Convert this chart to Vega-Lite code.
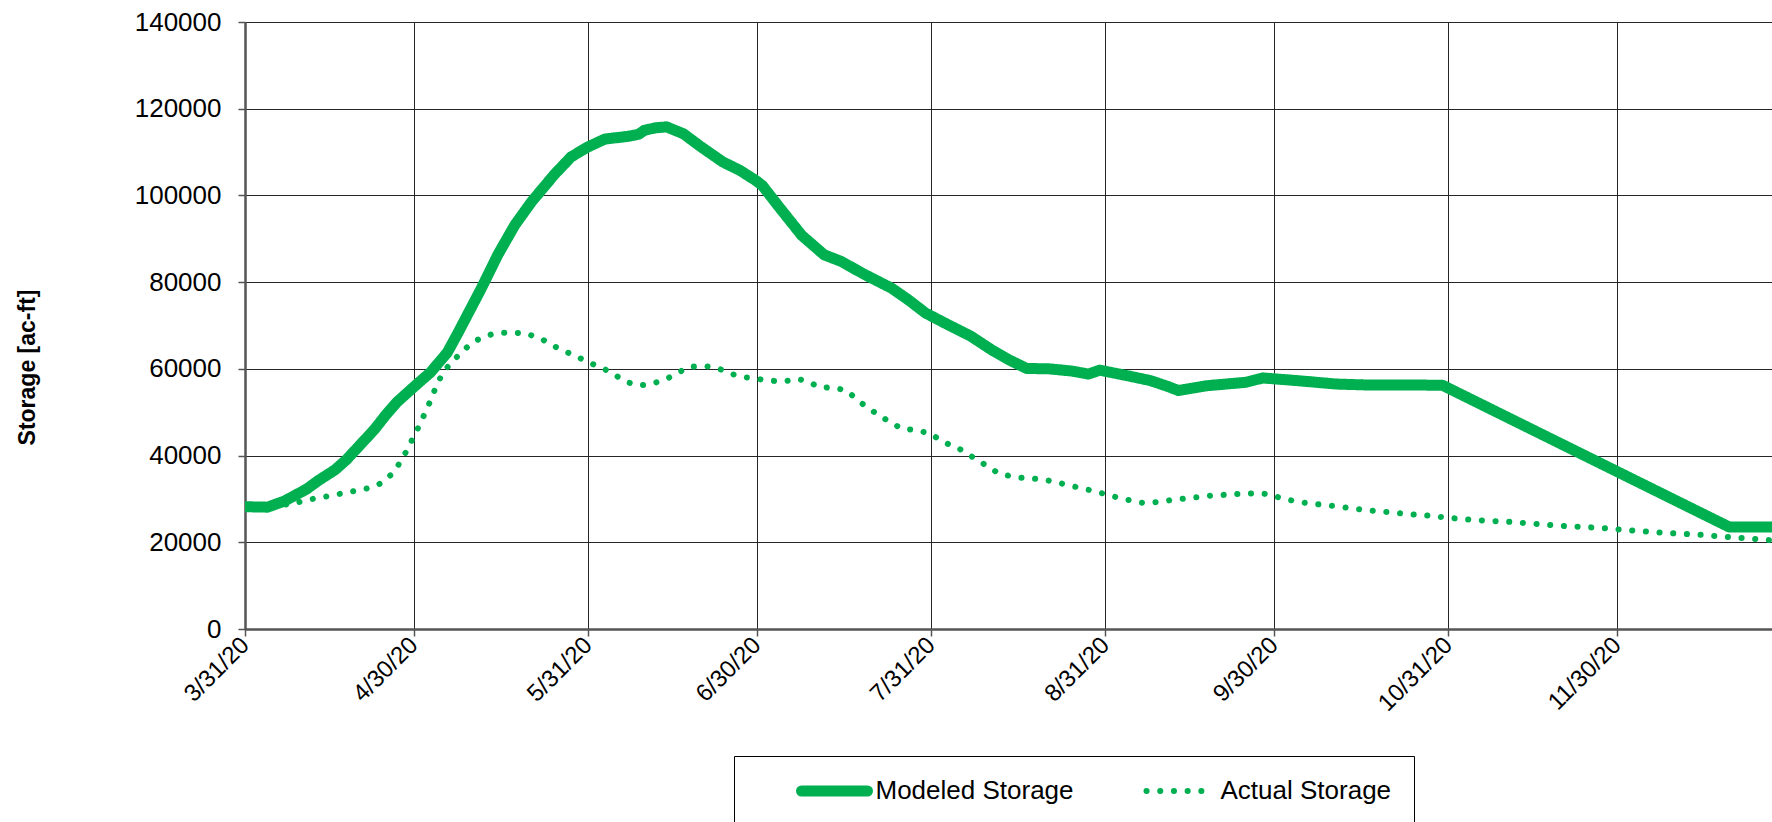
{
  "$schema": "https://vega.github.io/schema/vega-lite/v6.json",
  "width": 1527,
  "height": 607,
  "autosize": {"type": "none"},
  "padding": {"left": 245, "top": 22, "right": 0, "bottom": 193},
  "background": "white",
  "config": {
    "font": "Liberation Sans",
    "view": {"stroke": null},
    "axis": {"labelColor": "black", "titleColor": "black", "labelFont": "Liberation Sans", "titleFont": "Liberation Sans"}
  },
  "data": {
    "values": [
      {"date": "2020-03-31", "series": "Actual Storage", "value": 28300},
      {"date": "2020-04-04", "series": "Actual Storage", "value": 28200},
      {"date": "2020-04-08", "series": "Actual Storage", "value": 28800},
      {"date": "2020-04-10", "series": "Actual Storage", "value": 29400},
      {"date": "2020-04-12", "series": "Actual Storage", "value": 30000},
      {"date": "2020-04-15", "series": "Actual Storage", "value": 30700},
      {"date": "2020-04-17", "series": "Actual Storage", "value": 31200},
      {"date": "2020-04-19", "series": "Actual Storage", "value": 31700},
      {"date": "2020-04-22", "series": "Actual Storage", "value": 32500},
      {"date": "2020-04-24", "series": "Actual Storage", "value": 33500},
      {"date": "2020-04-26", "series": "Actual Storage", "value": 35600},
      {"date": "2020-04-27", "series": "Actual Storage", "value": 37200},
      {"date": "2020-04-28", "series": "Actual Storage", "value": 39500},
      {"date": "2020-04-29", "series": "Actual Storage", "value": 41600},
      {"date": "2020-04-30", "series": "Actual Storage", "value": 44500},
      {"date": "2020-05-01", "series": "Actual Storage", "value": 46900},
      {"date": "2020-05-02", "series": "Actual Storage", "value": 49800},
      {"date": "2020-05-03", "series": "Actual Storage", "value": 52700},
      {"date": "2020-05-04", "series": "Actual Storage", "value": 56000},
      {"date": "2020-05-05", "series": "Actual Storage", "value": 58600},
      {"date": "2020-05-06", "series": "Actual Storage", "value": 60400},
      {"date": "2020-05-08", "series": "Actual Storage", "value": 63200},
      {"date": "2020-05-10", "series": "Actual Storage", "value": 65600},
      {"date": "2020-05-12", "series": "Actual Storage", "value": 67200},
      {"date": "2020-05-14", "series": "Actual Storage", "value": 68000},
      {"date": "2020-05-16", "series": "Actual Storage", "value": 68300},
      {"date": "2020-05-18", "series": "Actual Storage", "value": 68300},
      {"date": "2020-05-20", "series": "Actual Storage", "value": 68200},
      {"date": "2020-05-23", "series": "Actual Storage", "value": 66700},
      {"date": "2020-05-25", "series": "Actual Storage", "value": 65200},
      {"date": "2020-05-27", "series": "Actual Storage", "value": 64000},
      {"date": "2020-05-30", "series": "Actual Storage", "value": 62200},
      {"date": "2020-06-01", "series": "Actual Storage", "value": 61000},
      {"date": "2020-06-03", "series": "Actual Storage", "value": 59900},
      {"date": "2020-06-05", "series": "Actual Storage", "value": 58400},
      {"date": "2020-06-07", "series": "Actual Storage", "value": 56900},
      {"date": "2020-06-09", "series": "Actual Storage", "value": 56200},
      {"date": "2020-06-11", "series": "Actual Storage", "value": 56400},
      {"date": "2020-06-14", "series": "Actual Storage", "value": 57700},
      {"date": "2020-06-16", "series": "Actual Storage", "value": 59100},
      {"date": "2020-06-18", "series": "Actual Storage", "value": 60500},
      {"date": "2020-06-21", "series": "Actual Storage", "value": 60600},
      {"date": "2020-06-23", "series": "Actual Storage", "value": 60200},
      {"date": "2020-06-25", "series": "Actual Storage", "value": 59100},
      {"date": "2020-06-27", "series": "Actual Storage", "value": 58200},
      {"date": "2020-06-30", "series": "Actual Storage", "value": 57700},
      {"date": "2020-07-02", "series": "Actual Storage", "value": 57300},
      {"date": "2020-07-05", "series": "Actual Storage", "value": 57100},
      {"date": "2020-07-07", "series": "Actual Storage", "value": 57700},
      {"date": "2020-07-09", "series": "Actual Storage", "value": 57200},
      {"date": "2020-07-11", "series": "Actual Storage", "value": 55800},
      {"date": "2020-07-14", "series": "Actual Storage", "value": 55600},
      {"date": "2020-07-16", "series": "Actual Storage", "value": 55000},
      {"date": "2020-07-18", "series": "Actual Storage", "value": 52700},
      {"date": "2020-07-20", "series": "Actual Storage", "value": 50800},
      {"date": "2020-07-22", "series": "Actual Storage", "value": 49100},
      {"date": "2020-07-24", "series": "Actual Storage", "value": 47500},
      {"date": "2020-07-26", "series": "Actual Storage", "value": 46100},
      {"date": "2020-07-28", "series": "Actual Storage", "value": 46000},
      {"date": "2020-07-31", "series": "Actual Storage", "value": 45000},
      {"date": "2020-08-02", "series": "Actual Storage", "value": 43200},
      {"date": "2020-08-04", "series": "Actual Storage", "value": 42200},
      {"date": "2020-08-06", "series": "Actual Storage", "value": 40900},
      {"date": "2020-08-08", "series": "Actual Storage", "value": 39100},
      {"date": "2020-08-10", "series": "Actual Storage", "value": 37600},
      {"date": "2020-08-12", "series": "Actual Storage", "value": 35900},
      {"date": "2020-08-15", "series": "Actual Storage", "value": 35000},
      {"date": "2020-08-17", "series": "Actual Storage", "value": 34800},
      {"date": "2020-08-19", "series": "Actual Storage", "value": 34600},
      {"date": "2020-08-22", "series": "Actual Storage", "value": 34000},
      {"date": "2020-08-24", "series": "Actual Storage", "value": 33300},
      {"date": "2020-08-26", "series": "Actual Storage", "value": 32700},
      {"date": "2020-08-29", "series": "Actual Storage", "value": 31800},
      {"date": "2020-08-31", "series": "Actual Storage", "value": 31100},
      {"date": "2020-09-02", "series": "Actual Storage", "value": 30400},
      {"date": "2020-09-05", "series": "Actual Storage", "value": 29500},
      {"date": "2020-09-07", "series": "Actual Storage", "value": 29000},
      {"date": "2020-09-10", "series": "Actual Storage", "value": 29400},
      {"date": "2020-09-12", "series": "Actual Storage", "value": 29800},
      {"date": "2020-09-15", "series": "Actual Storage", "value": 30200},
      {"date": "2020-09-17", "series": "Actual Storage", "value": 30500},
      {"date": "2020-09-19", "series": "Actual Storage", "value": 30800},
      {"date": "2020-09-22", "series": "Actual Storage", "value": 31000},
      {"date": "2020-09-24", "series": "Actual Storage", "value": 31200},
      {"date": "2020-09-27", "series": "Actual Storage", "value": 31300},
      {"date": "2020-09-29", "series": "Actual Storage", "value": 31100},
      {"date": "2020-10-01", "series": "Actual Storage", "value": 30300},
      {"date": "2020-10-04", "series": "Actual Storage", "value": 29400},
      {"date": "2020-10-06", "series": "Actual Storage", "value": 29000},
      {"date": "2020-10-09", "series": "Actual Storage", "value": 28600},
      {"date": "2020-10-11", "series": "Actual Storage", "value": 28300},
      {"date": "2020-10-14", "series": "Actual Storage", "value": 27800},
      {"date": "2020-10-16", "series": "Actual Storage", "value": 27500},
      {"date": "2020-10-18", "series": "Actual Storage", "value": 27200},
      {"date": "2020-10-21", "series": "Actual Storage", "value": 26900},
      {"date": "2020-10-23", "series": "Actual Storage", "value": 26600},
      {"date": "2020-10-25", "series": "Actual Storage", "value": 26400},
      {"date": "2020-10-28", "series": "Actual Storage", "value": 26100},
      {"date": "2020-10-30", "series": "Actual Storage", "value": 25800},
      {"date": "2020-11-02", "series": "Actual Storage", "value": 25400},
      {"date": "2020-11-05", "series": "Actual Storage", "value": 25100},
      {"date": "2020-11-08", "series": "Actual Storage", "value": 24900},
      {"date": "2020-11-11", "series": "Actual Storage", "value": 24700},
      {"date": "2020-11-14", "series": "Actual Storage", "value": 24400},
      {"date": "2020-11-17", "series": "Actual Storage", "value": 24100},
      {"date": "2020-11-20", "series": "Actual Storage", "value": 23800},
      {"date": "2020-11-23", "series": "Actual Storage", "value": 23600},
      {"date": "2020-11-26", "series": "Actual Storage", "value": 23400},
      {"date": "2020-11-29", "series": "Actual Storage", "value": 23100},
      {"date": "2020-12-02", "series": "Actual Storage", "value": 22800},
      {"date": "2020-12-05", "series": "Actual Storage", "value": 22500},
      {"date": "2020-12-08", "series": "Actual Storage", "value": 22200},
      {"date": "2020-12-11", "series": "Actual Storage", "value": 22000},
      {"date": "2020-12-14", "series": "Actual Storage", "value": 21800},
      {"date": "2020-12-17", "series": "Actual Storage", "value": 21500},
      {"date": "2020-12-20", "series": "Actual Storage", "value": 21200},
      {"date": "2020-12-23", "series": "Actual Storage", "value": 20900},
      {"date": "2020-12-26", "series": "Actual Storage", "value": 20600},
      {"date": "2020-12-31", "series": "Actual Storage", "value": 20100},
      {"date": "2020-03-31", "series": "Modeled Storage", "value": 28200},
      {"date": "2020-04-04", "series": "Modeled Storage", "value": 28100},
      {"date": "2020-04-07", "series": "Modeled Storage", "value": 29500},
      {"date": "2020-04-11", "series": "Modeled Storage", "value": 32300},
      {"date": "2020-04-13", "series": "Modeled Storage", "value": 34200},
      {"date": "2020-04-16", "series": "Modeled Storage", "value": 36700},
      {"date": "2020-04-18", "series": "Modeled Storage", "value": 39000},
      {"date": "2020-04-20", "series": "Modeled Storage", "value": 41800},
      {"date": "2020-04-23", "series": "Modeled Storage", "value": 46000},
      {"date": "2020-04-25", "series": "Modeled Storage", "value": 49300},
      {"date": "2020-04-27", "series": "Modeled Storage", "value": 52300},
      {"date": "2020-04-30", "series": "Modeled Storage", "value": 55800},
      {"date": "2020-05-03", "series": "Modeled Storage", "value": 59200},
      {"date": "2020-05-06", "series": "Modeled Storage", "value": 63800},
      {"date": "2020-05-08", "series": "Modeled Storage", "value": 68600},
      {"date": "2020-05-12", "series": "Modeled Storage", "value": 78500},
      {"date": "2020-05-15", "series": "Modeled Storage", "value": 86400},
      {"date": "2020-05-18", "series": "Modeled Storage", "value": 93200},
      {"date": "2020-05-21", "series": "Modeled Storage", "value": 98600},
      {"date": "2020-05-25", "series": "Modeled Storage", "value": 104800},
      {"date": "2020-05-28", "series": "Modeled Storage", "value": 108900},
      {"date": "2020-05-31", "series": "Modeled Storage", "value": 111200},
      {"date": "2020-06-03", "series": "Modeled Storage", "value": 113000},
      {"date": "2020-06-07", "series": "Modeled Storage", "value": 113600},
      {"date": "2020-06-09", "series": "Modeled Storage", "value": 114100},
      {"date": "2020-06-10", "series": "Modeled Storage", "value": 115000},
      {"date": "2020-06-12", "series": "Modeled Storage", "value": 115600},
      {"date": "2020-06-14", "series": "Modeled Storage", "value": 115800},
      {"date": "2020-06-17", "series": "Modeled Storage", "value": 114200},
      {"date": "2020-06-20", "series": "Modeled Storage", "value": 111300},
      {"date": "2020-06-24", "series": "Modeled Storage", "value": 107700},
      {"date": "2020-06-27", "series": "Modeled Storage", "value": 105800},
      {"date": "2020-06-30", "series": "Modeled Storage", "value": 103300},
      {"date": "2020-07-01", "series": "Modeled Storage", "value": 102300},
      {"date": "2020-07-04", "series": "Modeled Storage", "value": 97300},
      {"date": "2020-07-08", "series": "Modeled Storage", "value": 90800},
      {"date": "2020-07-12", "series": "Modeled Storage", "value": 86300},
      {"date": "2020-07-15", "series": "Modeled Storage", "value": 84800},
      {"date": "2020-07-19", "series": "Modeled Storage", "value": 81900},
      {"date": "2020-07-24", "series": "Modeled Storage", "value": 78600},
      {"date": "2020-07-27", "series": "Modeled Storage", "value": 75900},
      {"date": "2020-07-30", "series": "Modeled Storage", "value": 72900},
      {"date": "2020-08-03", "series": "Modeled Storage", "value": 70200},
      {"date": "2020-08-07", "series": "Modeled Storage", "value": 67600},
      {"date": "2020-08-11", "series": "Modeled Storage", "value": 64200},
      {"date": "2020-08-14", "series": "Modeled Storage", "value": 62000},
      {"date": "2020-08-17", "series": "Modeled Storage", "value": 60100},
      {"date": "2020-08-21", "series": "Modeled Storage", "value": 60000},
      {"date": "2020-08-25", "series": "Modeled Storage", "value": 59500},
      {"date": "2020-08-28", "series": "Modeled Storage", "value": 58800},
      {"date": "2020-08-30", "series": "Modeled Storage", "value": 59700},
      {"date": "2020-09-04", "series": "Modeled Storage", "value": 58400},
      {"date": "2020-09-08", "series": "Modeled Storage", "value": 57300},
      {"date": "2020-09-11", "series": "Modeled Storage", "value": 56000},
      {"date": "2020-09-13", "series": "Modeled Storage", "value": 55000},
      {"date": "2020-09-18", "series": "Modeled Storage", "value": 56100},
      {"date": "2020-09-25", "series": "Modeled Storage", "value": 56900},
      {"date": "2020-09-28", "series": "Modeled Storage", "value": 57900},
      {"date": "2020-10-04", "series": "Modeled Storage", "value": 57300},
      {"date": "2020-10-11", "series": "Modeled Storage", "value": 56500},
      {"date": "2020-10-16", "series": "Modeled Storage", "value": 56300},
      {"date": "2020-10-24", "series": "Modeled Storage", "value": 56300},
      {"date": "2020-10-30", "series": "Modeled Storage", "value": 56200},
      {"date": "2020-12-20", "series": "Modeled Storage", "value": 23500},
      {"date": "2020-12-31", "series": "Modeled Storage", "value": 23500}
    ]
  },
  "mark": {"type": "line", "strokeCap": "round", "strokeJoin": "round", "clip": true},
  "encoding": {
    "x": {
      "field": "date",
      "type": "temporal",
      "scale": {
        "type": "utc",
        "domain": [
          {"year": 2020, "month": 3, "date": 31, "utc": true},
          {"year": 2020, "month": 12, "date": 27, "hours": 13, "minutes": 30, "utc": true}
        ]
      },
      "axis": {
        "title": null,
        "values": [
          {"year": 2020, "month": 3, "date": 31, "utc": true},
          {"year": 2020, "month": 4, "date": 30, "utc": true},
          {"year": 2020, "month": 5, "date": 31, "utc": true},
          {"year": 2020, "month": 6, "date": 30, "utc": true},
          {"year": 2020, "month": 7, "date": 31, "utc": true},
          {"year": 2020, "month": 8, "date": 31, "utc": true},
          {"year": 2020, "month": 9, "date": 30, "utc": true},
          {"year": 2020, "month": 10, "date": 31, "utc": true},
          {"year": 2020, "month": 11, "date": 30, "utc": true}
        ],
        "format": "%-m/%d/%y",
        "labelAngle": -45,
        "labelAlign": "right",
        "labelBaseline": "middle",
        "labelFontSize": 24,
        "labelPadding": 5,
        "labelOverlap": false,
        "labelFlush": false,
        "grid": true,
        "gridColor": "#262626",
        "gridWidth": 1,
        "gridOpacity": 1,
        "tickColor": "#555555",
        "tickSize": 7,
        "tickWidth": 1.5,
        "domainColor": "#555555",
        "domainWidth": 2.5
      }
    },
    "y": {
      "field": "value",
      "type": "quantitative",
      "scale": {"domain": [0, 140000], "nice": false},
      "axis": {
        "title": "Storage [ac-ft]",
        "titleFontSize": 23,
        "titleFontWeight": "bold",
        "titleAngle": -90,
        "titleAlign": "center",
        "titleBaseline": "alphabetic",
        "titleX": -211,
        "titleY": 345,
        "values": [0, 20000, 40000, 60000, 80000, 100000, 120000, 140000],
        "format": "d",
        "labelFontSize": 26,
        "labelPadding": 17,
        "grid": true,
        "gridColor": "#262626",
        "gridWidth": 1,
        "gridOpacity": 1,
        "tickColor": "#555555",
        "tickSize": 7,
        "tickWidth": 1.5,
        "domainColor": "#555555",
        "domainWidth": 2.5
      }
    },
    "color": {
      "field": "series",
      "type": "nominal",
      "scale": {"domain": ["Modeled Storage", "Actual Storage"], "range": ["#00B050", "#00B050"]},
      "legend": {
        "orient": "none",
        "legendX": 489,
        "legendY": 734,
        "direction": "horizontal",
        "gridAlign": "none",
        "title": " ",
        "titleOrient": "left",
        "titleFontSize": 26,
        "titlePadding": 41,
        "padding": 22,
        "strokeColor": "black",
        "fillColor": "white",
        "labelFont": "Liberation Sans",
        "labelFontSize": 26,
        "labelColor": "black",
        "labelBaseline": "middle",
        "labelOffset": 28,
        "labelLimit": 400,
        "columnPadding": 60,
        "symbolType": "M-6.6,0H6.6",
        "symbolSize": 100,
        "symbolOffset": 24.5,
        "encode": {
          "symbols": {"update": {"strokeCap": {"value": "round"}}}
        }
      }
    },
    "strokeDash": {
      "field": "series",
      "type": "nominal",
      "scale": {"domain": ["Modeled Storage", "Actual Storage"], "range": [[1, 0], [0.1, 13.6]]}
    },
    "strokeWidth": {
      "field": "series",
      "type": "nominal",
      "scale": {"domain": ["Modeled Storage", "Actual Storage"], "range": [11, 6]}
    }
  }
}
